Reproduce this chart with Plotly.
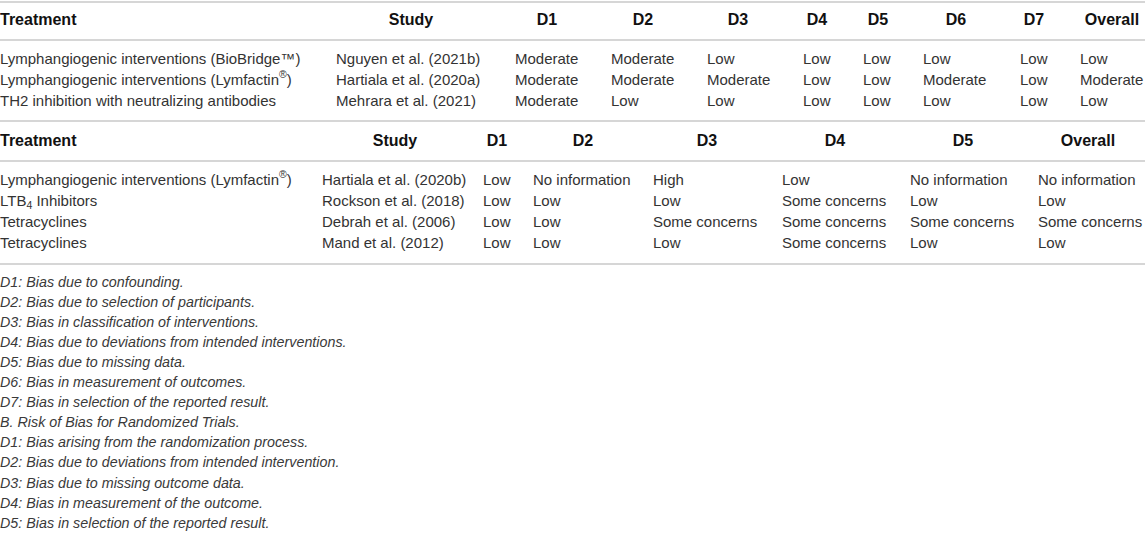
import plotly.graph_objects as go

# A. non-randomized studies
t1_header = ["Treatment", "Study", "D1", "D2", "D3", "D4", "D5", "D6", "D7", "Overall"]
t1_treatment = ["Lymphangiogenic interventions (BioBridge™)",
                "Lymphangiogenic interventions (Lymfactin<sup>®</sup>)",
                "TH2 inhibition with neutralizing antibodies"]
t1_study = ["Nguyen et al. (2021b)", "Hartiala et al. (2020a)", "Mehrara et al. (2021)"]
t1_d1 = ["Moderate", "Moderate", "Moderate"]
t1_d2 = ["Moderate", "Moderate", "Low"]
t1_d3 = ["Low", "Moderate", "Low"]
t1_d4 = ["Low", "Low", "Low"]
t1_d5 = ["Low", "Low", "Low"]
t1_d6 = ["Low", "Moderate", "Low"]
t1_d7 = ["Low", "Low", "Low"]
t1_overall = ["Low", "Moderate", "Low"]

# B. randomized trials
t2_header = ["Treatment", "Study", "D1", "D2", "D3", "D4", "D5", "Overall"]
t2_treatment = ["Lymphangiogenic interventions (Lymfactin<sup>®</sup>)",
                "LTB<sub>4</sub> Inhibitors", "Tetracyclines", "Tetracyclines"]
t2_study = ["Hartiala et al. (2020b)", "Rockson et al. (2018)",
            "Debrah et al. (2006)", "Mand et al. (2012)"]
t2_d1 = ["Low", "Low", "Low", "Low"]
t2_d2 = ["No information", "Low", "Low", "Low"]
t2_d3 = ["High", "Low", "Some concerns", "Low"]
t2_d4 = ["Low", "Some concerns", "Some concerns", "Some concerns"]
t2_d5 = ["No information", "Low", "Some concerns", "Low"]
t2_overall = ["No information", "Low", "Some concerns", "Low"]

footnotes = [
    "D1: Bias due to confounding.",
    "D2: Bias due to selection of participants.",
    "D3: Bias in classification of interventions.",
    "D4: Bias due to deviations from intended interventions.",
    "D5: Bias due to missing data.",
    "D6: Bias in measurement of outcomes.",
    "D7: Bias in selection of the reported result.",
    "B. Risk of Bias for Randomized Trials.",
    "D1: Bias arising from the randomization process.",
    "D2: Bias due to deviations from intended intervention.",
    "D3: Bias due to missing outcome data.",
    "D4: Bias in measurement of the outcome.",
    "D5: Bias in selection of the reported result.",
]

W, H = 1145, 533
FONT = "Liberation Sans"
BODY = "#333333"
RULE = "#d6d6d6"

# layout: header centres / cell left edges per column
t1_head_x = [0, 411, 547, 643, 738, 817, 878, 956, 1034, 1112]
t1_cell_x = [0, 336, 515, 611, 707, 803, 863, 923, 1020, 1080]
t2_head_x = [0, 395, 497, 583, 707, 835, 963, 1088]
t2_cell_x = [0, 322, 483, 533, 653, 782, 910, 1038]

fig = go.Figure()


def add_block(head, head_x, cell_x, cols, y_head, y_row0, pitch):
    for i, (h, hx) in enumerate(zip(head, head_x)):
        fig.add_trace(go.Scatter(
            x=[hx], y=[y_head], mode="text", text=["<b>%s</b>" % h],
            textposition="middle right" if i == 0 else "middle center",
            textfont=dict(family=FONT, size=16, color="#111"),
            cliponaxis=False, hoverinfo="skip", showlegend=False))
    for col, cx in zip(cols, cell_x):
        ys = [y_row0 + k * pitch for k in range(len(col))]
        fig.add_trace(go.Scatter(
            x=[cx] * len(col), y=ys, mode="text", text=col,
            textposition="middle right",
            textfont=dict(family=FONT, size=15, color=BODY),
            cliponaxis=False, hoverinfo="skip", showlegend=False))


add_block(t1_header, t1_head_x, t1_cell_x,
          [t1_treatment, t1_study, t1_d1, t1_d2, t1_d3, t1_d4, t1_d5, t1_d6, t1_d7, t1_overall],
          21, 60, 21)
add_block(t2_header, t2_head_x, t2_cell_x,
          [t2_treatment, t2_study, t2_d1, t2_d2, t2_d3, t2_d4, t2_d5, t2_overall],
          142, 181, 21.2)

fig.add_trace(go.Scatter(
    x=[0] * len(footnotes), y=[283 + k * 20.1 for k in range(len(footnotes))],
    mode="text", text=["<i>%s</i>" % f for f in footnotes],
    textposition="middle right",
    textfont=dict(family=FONT, size=14.3, color="#3a3a3a"),
    cliponaxis=False, hoverinfo="skip", showlegend=False))

for yl in [2, 40, 121, 161, 264]:
    fig.add_shape(type="line", xref="paper", x0=0, x1=1, y0=yl, y1=yl,
                  line=dict(color=RULE, width=2))

fig.update_layout(
    width=W, height=H,
    margin=dict(l=0, r=0, t=0, b=0),
    paper_bgcolor="white", plot_bgcolor="white",
    xaxis=dict(range=[0, W], visible=False, fixedrange=True),
    yaxis=dict(range=[H, 0], visible=False, fixedrange=True),
)

# page body has a default 8px margin; drop it so the figure fills the window
fig.write_html("out.html", config={"displayModeBar": False},
               post_script="document.body.style.margin='0';")
